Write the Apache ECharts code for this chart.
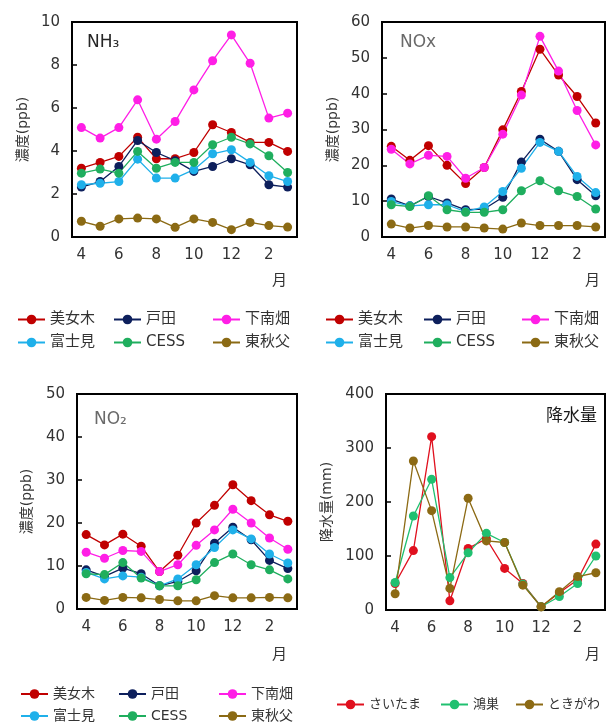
<!DOCTYPE html>
<html>
<head>
<meta charset="utf-8">
<script src="https://cdn.jsdelivr.net/npm/echarts@6/dist/echarts.min.js"></script>
<style>
  body { margin: 0; background: #fff; overflow: hidden; }
  .panel { position: absolute; width: 303px; height: 361px; }
  .low { height: 400px; }
</style>
</head>
<body>
<div id="nh3" class="panel" style="left:0;top:0"></div>
<div id="nox" class="panel" style="left:303px;top:0"></div>
<div id="no2" class="panel low" style="left:0;top:361px"></div>
<div id="rain" class="panel low" style="left:303px;top:361px"></div>
<script>
// 月（4月〜翌3月）
var months = ['4', '5', '6', '7', '8', '9', '10', '11', '12', '1', '2', '3'];

// 測定局
var stations = ['美女木', '戸田', '下南畑', '富士見', 'CESS', '東秋父'];
var stationColors = ['#c00000', '#0d1f5c', '#ff1ee6', '#1fb0ea', '#1fae5e', '#8b6a14'];

// NH3 (ppb)  順番は stations と同じ
var nh3Bijogi = [3.2, 3.47, 3.75, 4.64, 3.64, 3.64, 3.93, 5.22, 4.86, 4.4, 4.4, 3.98];
var nh3Toda = [2.32, 2.58, 3.28, 4.49, 3.93, 3.55, 3.05, 3.28, 3.64, 3.36, 2.43, 2.32];
var nh3Shimonanbata = [5.09, 4.6, 5.09, 6.38, 4.55, 5.37, 6.84, 8.2, 9.4, 8.08, 5.53, 5.76];
var nh3Fujimi = [2.43, 2.5, 2.58, 3.62, 2.74, 2.74, 3.13, 3.87, 4.06, 3.47, 2.85, 2.58];
var nh3Cess = [2.97, 3.16, 2.97, 3.98, 3.2, 3.47, 3.47, 4.29, 4.64, 4.33, 3.78, 3.0];
var nh3Higashichichibu = [0.73, 0.5, 0.84, 0.88, 0.84, 0.45, 0.84, 0.68, 0.34, 0.68, 0.53, 0.46];

// NOx (ppb)
var noxBijogi = [25.3, 21.4, 25.5, 20.0, 14.9, 19.4, 29.9, 40.6, 52.4, 45.2, 39.2, 31.8];
var noxToda = [10.6, 8.7, 11.3, 9.5, 7.6, 7.8, 11.1, 20.9, 27.3, 23.9, 16.0, 11.5];
var noxShimonanbata = [24.5, 20.4, 22.8, 22.5, 16.4, 19.4, 28.7, 39.6, 56.0, 46.3, 35.3, 25.7];
var noxFujimi = [9.9, 8.7, 9.0, 9.0, 7.1, 8.4, 12.7, 19.2, 26.4, 23.9, 16.9, 12.4];
var noxCess = [9.0, 8.5, 11.5, 7.6, 6.9, 6.9, 7.6, 12.9, 15.7, 12.9, 11.3, 7.8];
var noxHigashichichibu = [3.6, 2.5, 3.2, 2.8, 2.8, 2.5, 2.2, 3.9, 3.2, 3.2, 3.2, 2.8];

// NO2 (ppb)
var no2Bijogi = [17.3, 14.9, 17.4, 14.6, 8.7, 12.5, 20.0, 24.1, 28.9, 25.2, 21.9, 20.4];
var no2Toda = [9.1, 7.6, 9.5, 8.2, 5.4, 6.4, 8.9, 15.3, 19.0, 16.1, 11.3, 9.4];
var no2Shimonanbata = [13.2, 11.8, 13.6, 13.4, 8.7, 10.3, 14.8, 18.4, 23.2, 20.0, 16.5, 13.9];
var no2Fujimi = [8.5, 7.0, 7.7, 7.4, 5.4, 7.0, 10.3, 14.3, 18.4, 16.3, 12.8, 10.7];
var no2Cess = [8.2, 8.0, 10.8, 7.2, 5.4, 5.4, 6.8, 10.8, 12.8, 10.3, 9.1, 7.0];
var no2Higashichichibu = [2.7, 2.0, 2.7, 2.6, 2.2, 1.9, 1.9, 3.1, 2.6, 2.6, 2.7, 2.6];

// 降水量 (mm)
var rainPoints = ['さいたま', '鴻巣', 'ときがわ'];
var rainColors = ['#e0101e', '#20c070', '#8c6a14'];
var rainSaitama = [49, 110, 321, 17, 114, 132, 77, 49, 6, 32, 56, 122];
var rainKonosu = [51, 174, 242, 60, 106, 142, 125, 48, 6, 25, 49, 100];
var rainTokigawa = [30, 276, 184, 40, 207, 128, 125, 46, 6, 34, 62, 69];

var fontFamily = '"DejaVu Sans", "Noto Sans CJK JP", sans-serif';
var textColor = '#333';

function loadChart() {
    setChart('nh3', makePanelOption({
        title: { text: 'NH₃', left: 82, top: 29, color: '#262626' },
        names: stations, colors: stationColors,
        data: [nh3Bijogi, nh3Toda, nh3Shimonanbata, nh3Fujimi, nh3Cess, nh3Higashichichibu],
        max: 10, interval: 2, yName: '濃度(ppb)', nameGap: 40,
        grid: { left: 72, top: 22, right: 6, height: 215 },
        monthPos: [272, 274],
        legendTop: 312, legendLeft: [17, 113, 212], legendFont: 15
    }));

    setChart('nox', makePanelOption({
        title: { text: 'NOx', left: 92, top: 29, color: '#6a6a6a' },
        names: stations, colors: stationColors,
        data: [noxBijogi, noxToda, noxShimonanbata, noxFujimi, noxCess, noxHigashichichibu],
        max: 60, interval: 10, yName: '濃度(ppb)', nameGap: 40,
        grid: { left: 79, top: 22, right: 1, height: 215 },
        monthPos: [282, 274],
        legendTop: 312, legendLeft: [22, 120, 218], legendFont: 15
    }));

    setChart('no2', makePanelOption({
        title: { text: 'NO₂', left: 89, top: 45, color: '#6a6a6a' },
        names: stations, colors: stationColors,
        data: [no2Bijogi, no2Toda, no2Shimonanbata, no2Fujimi, no2Cess, no2Higashichichibu],
        max: 50, interval: 10, yName: '濃度(ppb)', nameGap: 43,
        grid: { left: 77, top: 33, right: 6, height: 215 },
        monthPos: [272, 287],
        legendTop: 326, legendLeft: [20, 118, 218], legendFont: 14
    }));

    setChart('rain', makePanelOption({
        title: { text: '降水量', right: 4, top: 42, color: '#1a1a1a' },
        names: rainPoints, colors: rainColors,
        data: [rainSaitama, rainKonosu, rainTokigawa],
        max: 400, interval: 100, yName: '降水量(mm)', nameGap: 45,
        grid: { left: 83, top: 33, right: 1, height: 216 },
        monthPos: [282, 287],
        legendTop: 337, legendLeft: [33, 137, 212], legendFont: 13, legendRow: true
    }));
}

function makePanelOption(cfg) {
    var series = cfg.names.map(function (name, i) {
        return {
            name: name,
            type: 'line',
            data: cfg.data[i],
            symbol: 'circle',
            symbolSize: 9,
            color: cfg.colors[i],
            lineStyle: { width: 1.3 },
            animation: false
        };
    });

    // 凡例：3列（縦2段）または1行（1項目ずつ）
    var legends = cfg.legendLeft.map(function (left, c) {
        var items = cfg.legendRow ? [cfg.names[c]] : [cfg.names[c], cfg.names[c + 3]];
        return {
            left: left, top: cfg.legendTop, orient: 'vertical', padding: 0,
            itemWidth: 27, itemHeight: 12, itemGap: 8,
            textStyle: { fontSize: cfg.legendFont, color: textColor, fontFamily: fontFamily },
            data: items
        };
    });

    var title = {
        text: cfg.title.text,
        top: cfg.title.top,
        textStyle: { fontSize: 17, fontWeight: 'normal', color: cfg.title.color, fontFamily: fontFamily }
    };
    if (cfg.title.left !== undefined) title.left = cfg.title.left;
    if (cfg.title.right !== undefined) title.right = cfg.title.right;

    var option = {
        title: title,
        legend: legends,
        grid: {
            left: cfg.grid.left, top: cfg.grid.top, right: cfg.grid.right, height: cfg.grid.height,
            show: true, borderColor: '#000', borderWidth: 2
        },
        xAxis: {
            type: 'category',
            data: months,
            boundaryGap: true,
            axisLine: { lineStyle: { color: '#000', width: 2 } },
            axisTick: { inside: true, length: 5, lineStyle: { color: '#000', width: 1.5 } },
            axisLabel: { interval: 1, fontSize: 15, color: textColor, margin: 11, fontFamily: fontFamily }
        },
        yAxis: {
            type: 'value',
            min: 0,
            max: cfg.max,
            interval: cfg.interval,
            name: cfg.yName,
            nameLocation: 'middle',
            nameGap: cfg.nameGap,
            nameTextStyle: { fontSize: 14, color: textColor, fontFamily: fontFamily },
            axisLine: { show: true, lineStyle: { color: '#000', width: 2 } },
            axisTick: { show: true, inside: true, length: 5, lineStyle: { color: '#000', width: 1.5 } },
            splitLine: { show: false },
            axisLabel: { fontSize: 15, color: textColor, margin: 12, fontFamily: fontFamily }
        },
        graphic: [{
            type: 'text',
            left: cfg.monthPos[0],
            top: cfg.monthPos[1],
            style: { text: '月', fontSize: 15, fill: textColor, fontFamily: fontFamily }
        }],
        series: series
    };
    return option;
}

function setChart(id, option) {
    var myChart = echarts.init(document.getElementById(id));
    myChart.setOption(option);
}

loadChart();
</script>
</body>
</html>
